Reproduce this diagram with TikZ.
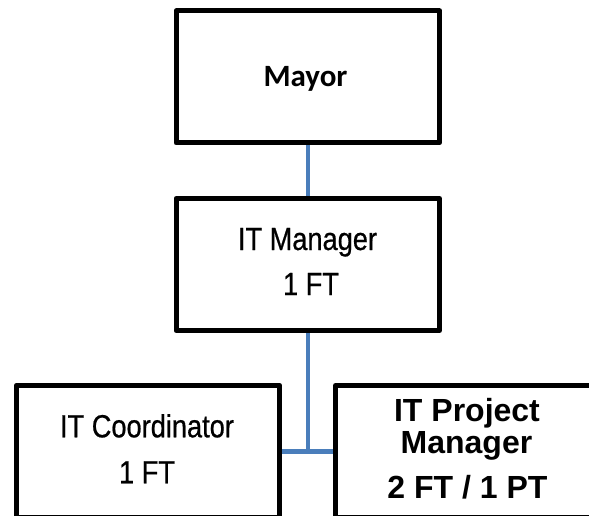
\documentclass[tikz,border=0pt]{standalone}
\usepackage{fontspec}
\newfontfamily\calibrifont{Carlito}
\newfontfamily\narrowfont[FakeStretch=0.85,FakeBold=0.6]{Liberation Sans}
\newfontfamily\arialfont{Liberation Sans}
\usetikzlibrary{backgrounds}
\definecolor{linkblue}{RGB}{74,126,187}
\begin{document}
\begin{tikzpicture}[x=1pt,y=1pt,
  box/.style={draw=black, line width=5pt, line join=round,
    minimum width=263.5pt, minimum height=132pt, inner sep=0pt, outer sep=0pt},
  lbl/.style={inner sep=0pt, outer sep=0pt, anchor=base},
  plain/.style={lbl, font=\narrowfont\fontsize{32}{38}\selectfont},
  heading/.style={lbl, font=\arialfont\bfseries\fontsize{32}{38}\selectfont},
  title/.style={lbl, font=\calibrifont\bfseries\fontsize{31}{37}\selectfont},
  link/.style={draw=linkblue, line width=4.5pt}]
\useasboundingbox (0,0) rectangle (589,-516);
\clip (0,0) rectangle (589,-516);

% boxes
\node[box] (mayor) at (307.75,-76.9) {};
\node[box] (mgr)   at (307.75,-264.5) {};
\node[box] (coord) at (148,-451.5) {};
\node[box] (pm)    at (467.25,-451.5) {};

% labels
\node[title] (mayorT) at (305.5,-86.7) {Mayor};
\node[plain] (mgrA) at (307.5,-250) {IT Manager};
\node[plain] (mgrB) at (311,-295) {1 FT};
\node[plain] (coordA) at (147,-437.3) {IT Coordinator};
\node[plain] (coordB) at (147,-483.3) {1 FT};
\node[heading] (pmA) at (467,-421.7) {IT Project};
\node[heading] (pmB) at (466.5,-453.3) {Manager};
\node[heading] (pmC) at (467.5,-498.3) {2 FT / 1 PT};

% connectors
\begin{scope}[on background layer]
  \draw[link] (mayor.south) -- (mgr.north);
  \draw[link] (mgr.south) -- (mgr.south |- coord.east) coordinate (fork);
  \draw[link] (coord.east) -- (pm.west);
\end{scope}
\end{tikzpicture}
\end{document}
